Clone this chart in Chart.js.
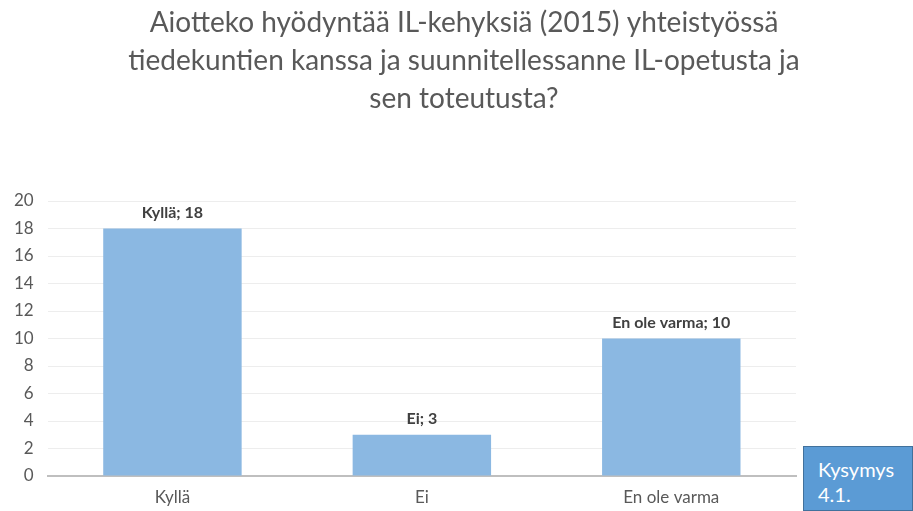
<!DOCTYPE html>
<html>
<head>
<meta charset="utf-8">
<script src="https://cdn.jsdelivr.net/npm/chart.js@4/dist/chart.umd.min.js"></script>
<style>
  html, body { margin: 0; padding: 0; background: #fff; }
  #wrap { position: relative; width: 913px; height: 511px; }
  #tag {
    position: absolute; left: 803px; top: 446px; width: 110px; height: 65px;
    box-sizing: border-box; background: #5b9bd5; border: 1px solid #41719c;
    color: #fff; font-family: Lato, sans-serif; font-size: 20px; line-height: 25px;
    padding: 10px 0 0 14px;
  }
</style>
</head>
<body>
<div id="wrap">
  <canvas id="c" width="913" height="511"></canvas>
  <div id="tag">Kysymys<br>4.1.</div>
</div>
<script>
const categories = ['Kyllä', 'Ei', 'En ole varma'];
const values = [18, 3, 10];
const yTicks = [0, 2, 4, 6, 8, 10, 12, 14, 16, 18, 20];
const titleLines = [
  'Aiotteko hyödyntää IL-kehyksiä (2015) yhteistyössä',
  'tiedekuntien kanssa ja suunnitellessanne IL-opetusta ja',
  'sen toteutusta?'
];

const FONT = 'Lato, "Open Sans", sans-serif';

// title centred over the whole slide, not the plot
const slideTitle = {
  id: 'slideTitle',
  afterDraw(chart) {
    const ctx = chart.ctx;
    ctx.save();
    ctx.font = '28px ' + FONT;
    ctx.fillStyle = '#595959';
    ctx.textAlign = 'center';
    ctx.textBaseline = 'middle';
    titleLines.forEach((t, i) => ctx.fillText(t, 464, 23 + i * 38));
    ctx.restore();
  }
};

// labels above the bars, "Kyllä; 18"
const barLabels = {
  id: 'barLabels',
  afterDatasetsDraw(chart) {
    const ctx = chart.ctx;
    const meta = chart.getDatasetMeta(0);
    ctx.save();
    ctx.font = 'bold 16px ' + FONT;
    ctx.fillStyle = '#404040';
    ctx.textAlign = 'center';
    ctx.textBaseline = 'bottom';
    meta.data.forEach((bar, i) => {
      ctx.fillText(categories[i] + '; ' + values[i], bar.x, bar.y - 8);
    });
    ctx.restore();
  }
};

new Chart(document.getElementById('c'), {
  type: 'bar',
  data: {
    labels: categories,
    datasets: [{
      data: values,
      backgroundColor: '#8bb8e2',
      borderWidth: 0,
      categoryPercentage: 1,
      barPercentage: 0.555
    }]
  },
  options: {
    responsive: false,
    animation: false,
    layout: { padding: { left: 0, right: 117, top: 201, bottom: 0 } },
    plugins: {
      legend: { display: false },
      tooltip: { enabled: false },
      title: { display: false }
    },
    scales: {
      x: {
        afterFit: axis => { axis.height = 35; },
        grid: { display: false, drawTicks: false },
        border: { color: '#bfbfbf', width: 2 },
        ticks: { color: '#595959', font: { family: FONT, size: 17 }, padding: 11 }
      },
      y: {
        min: 0,
        max: 20,
        afterBuildTicks: axis => { axis.ticks = yTicks.map(v => ({ value: v })); },
        grid: { color: '#ededed', drawTicks: false },
        border: { display: false },
        ticks: { color: '#595959', font: { family: FONT, size: 17 }, padding: 14 }
      }
    }
  },
  plugins: [barLabels, slideTitle]
});
</script>
</body>
</html>
